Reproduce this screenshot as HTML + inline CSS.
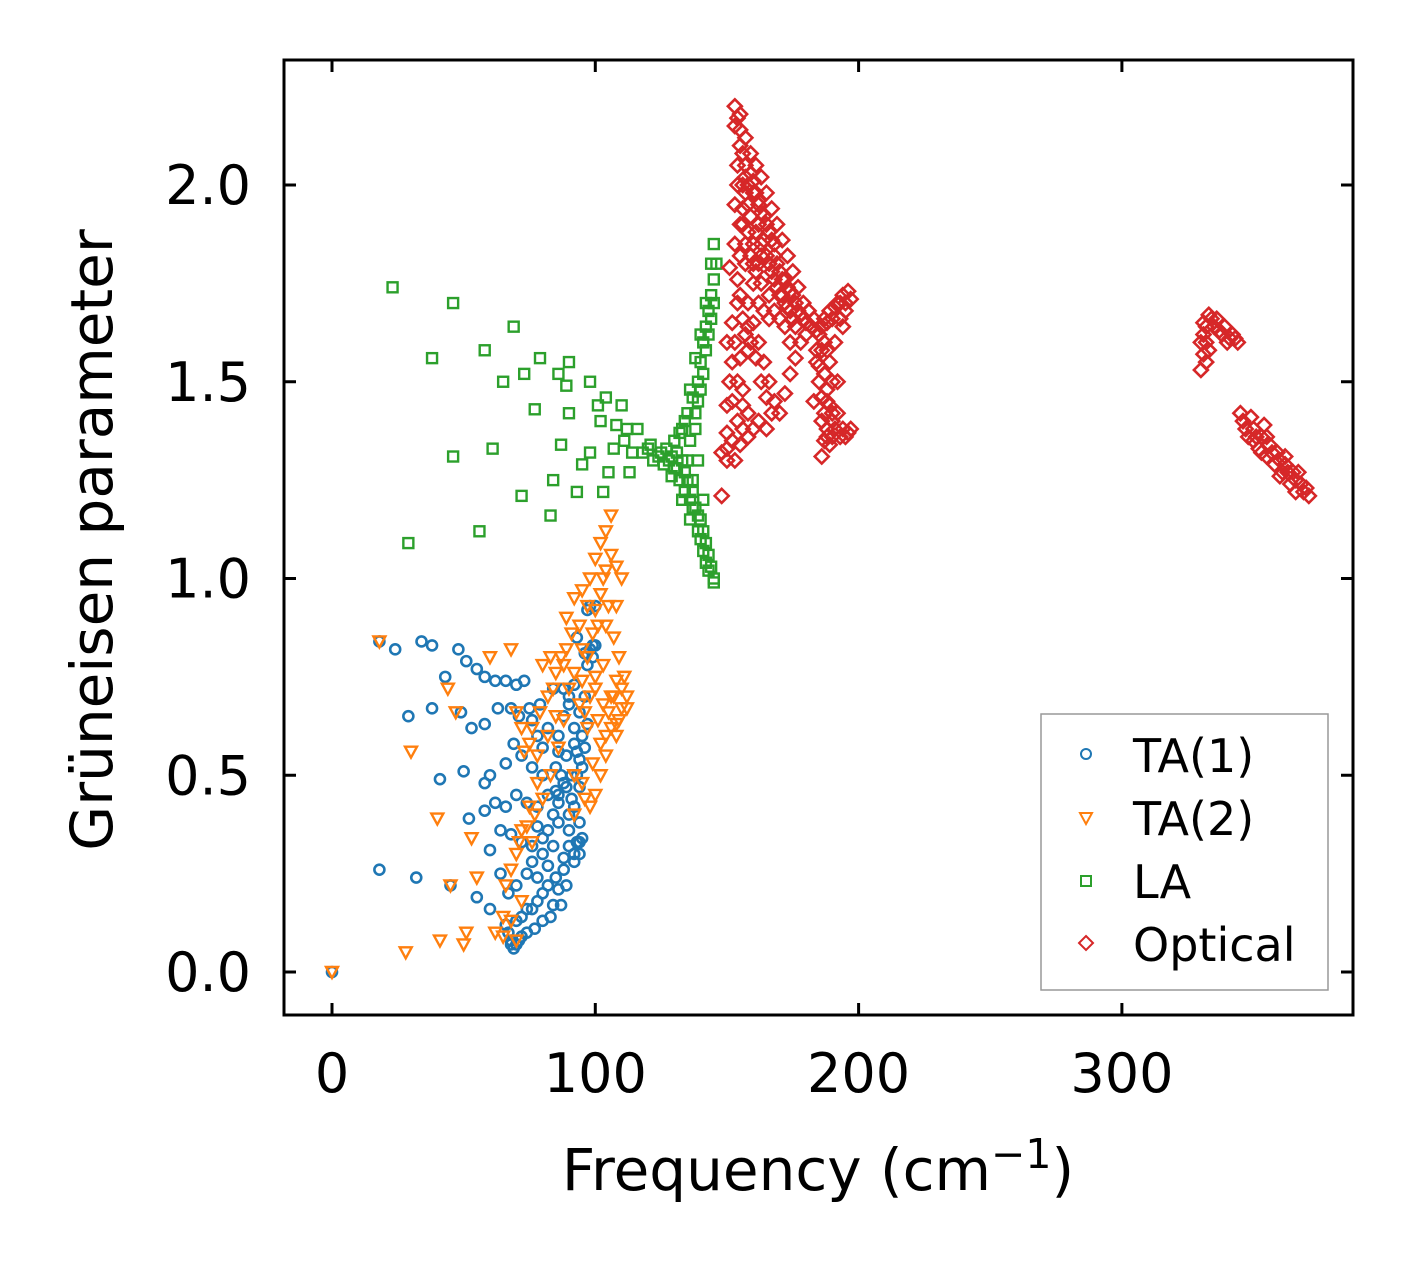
<!DOCTYPE html>
<html><head><meta charset="utf-8"><style>
html,body{margin:0;padding:0;background:#fff;}
svg{display:block;font-family:"DejaVu Sans","Liberation Sans",sans-serif;}
</style></head><body>
<svg id="chart" width="1413" height="1264" viewBox="0 0 1413 1264">
<rect x="0" y="0" width="1413" height="1264" fill="#fff"/>
<g id="marks"></g>
<rect x="284" y="60" width="1069" height="955" fill="none" stroke="#000" stroke-width="3"/>
<g id="axes"></g>
<text x="818" y="1190" font-size="58" text-anchor="middle">Frequency (cm<tspan dy="-22" font-size="41">−1</tspan><tspan dy="22">)</tspan></text>
<text transform="translate(112,540) rotate(-90)" font-size="58" text-anchor="middle">Grüneisen parameter</text>
<g>
<rect x="1041" y="714" width="287" height="276" fill="#fff" fill-opacity="0.8" stroke="#999" stroke-width="1.5"/>
<circle cx="1086" cy="754" r="5" fill="none" stroke="#1f77b4" stroke-width="2"/>
<text x="1133" y="772" font-size="46">TA(1)</text>
<path d="M1080,813 L1092,813 L1086,824 Z" fill="none" stroke="#ff7f0e" stroke-width="2"/>
<text x="1133" y="835" font-size="46">TA(2)</text>
<rect x="1081" y="876" width="10" height="10" fill="none" stroke="#2ca02c" stroke-width="2"/>
<text x="1133" y="898" font-size="46">LA</text>
<path d="M1086,936 L1093,943 L1086,950 L1079,943 Z" fill="none" stroke="#d62728" stroke-width="2"/>
<text x="1133" y="961" font-size="46">Optical</text>
</g>
</svg>
<script>
const xTicks=[0,100,200,300];
const yTicks=[0.0,0.5,1.0,1.5,2.0];
const yTickLabels=["0.0","0.5","1.0","1.5","2.0"];
const ta1=[[0,0],[18,0.84],[24,0.82],[34,0.84],[38,0.83],[43,0.75],[48,0.82],[51,0.79],[55,0.77],[58,0.75],[62,0.74],[66,0.74],[70,0.73],[73,0.74],[29,0.65],[38,0.67],[49,0.66],[53,0.62],[58,0.63],[63,0.67],[68,0.67],[71,0.65],[75,0.67],[79,0.68],[84,0.72],[88,0.72],[92,0.73],[97,0.78],[99,0.8],[100,0.83],[97,0.92],[100,0.93],[93,0.85],[41,0.49],[50,0.51],[58,0.48],[60,0.5],[66,0.53],[69,0.58],[72,0.55],[76,0.52],[80,0.5],[85,0.52],[89,0.55],[93,0.56],[95,0.6],[58,0.41],[62,0.43],[66,0.42],[70,0.45],[74,0.43],[78,0.42],[82,0.45],[86,0.43],[90,0.4],[94,0.38],[52,0.39],[60,0.31],[64,0.36],[68,0.35],[72,0.33],[76,0.32],[80,0.3],[84,0.32],[88,0.29],[92,0.28],[94,0.3],[18,0.26],[32,0.24],[45,0.22],[55,0.19],[60,0.16],[64,0.25],[67,0.2],[70,0.22],[74,0.25],[78,0.24],[82,0.27],[86,0.21],[89,0.22],[84,0.17],[87,0.17],[66,0.12],[68,0.08],[70,0.07],[72,0.09],[74,0.1],[77,0.11],[80,0.13],[83,0.14],[67,0.1],[69,0.06],[86,0.6],[88,0.65],[90,0.68],[92,0.62],[94,0.66],[96,0.7],[85,0.46],[87,0.5],[89,0.47],[91,0.44],[93,0.5],[95,0.34],[93,0.33],[90,0.36],[86,0.38],[82,0.36],[78,0.37],[80,0.2],[76,0.16],[72,0.14],[98,0.82],[96,0.81],[82,0.62],[80,0.57],[78,0.6],[76,0.64],[90,0.7],[92,0.58],[94,0.54],[91,0.5],[88,0.48],[86,0.45],[92,0.42],[90,0.32],[92,0.3],[94,0.33],[88,0.26],[85,0.24],[82,0.22],[78,0.18],[74,0.16],[70,0.13],[68,0.07],[71,0.08],[96,0.57],[95,0.52],[94,0.47],[97,0.63],[99,0.83],[98,0.93],[86,0.56],[84,0.4],[80,0.34],[76,0.28]];
const ta2=[[0,0],[18,0.84],[28,0.05],[30,0.56],[41,0.08],[40,0.39],[44,0.72],[47,0.66],[45,0.22],[50,0.07],[51,0.1],[55,0.24],[53,0.34],[62,0.1],[65,0.14],[60,0.8],[68,0.82],[70,0.66],[72,0.62],[75,0.58],[78,0.55],[80,0.78],[83,0.8],[85,0.76],[88,0.78],[90,0.72],[92,0.76],[95,0.74],[98,0.7],[100,0.72],[103,0.68],[105,0.66],[107,0.7],[108,0.63],[110,0.67],[112,0.67],[108,0.6],[104,0.55],[102,0.5],[100,0.45],[98,0.42],[95,0.48],[92,0.5],[89,0.9],[92,0.95],[95,0.97],[98,1.0],[100,1.05],[102,1.09],[104,1.12],[106,1.16],[108,1.03],[110,1.0],[105,0.93],[107,0.85],[109,0.8],[104,0.88],[101,0.88],[95,0.82],[85,0.65],[82,0.6],[78,0.48],[75,0.42],[72,0.36],[76,0.33],[70,0.3],[68,0.26],[66,0.22],[72,0.18],[70,0.08],[65,0.09],[68,0.13],[100,0.75],[103,0.78],[106,0.62],[97,0.62],[111,0.75],[108,0.93],[103,1.0],[97,0.93],[94,0.88],[91,0.86],[88,0.64],[86,0.57],[83,0.5],[80,0.44],[77,0.4],[74,0.37],[71,0.33],[106,1.06],[104,1.02],[102,0.96],[100,0.92],[99,0.86],[97,0.8],[94,0.68],[96,0.66],[101,0.64],[104,0.6],[106,0.7],[108,0.74],[110,0.72],[112,0.7],[109,0.64],[102,0.58],[99,0.53],[96,0.44],[92,0.4],[89,0.82],[87,0.8],[84,0.72],[82,0.7],[79,0.66],[76,0.62],[73,0.56]];
const la=[[23,1.74],[46,1.7],[69,1.64],[38,1.56],[58,1.58],[79,1.56],[90,1.55],[65,1.5],[73,1.52],[86,1.52],[98,1.5],[89,1.49],[101,1.44],[104,1.46],[110,1.44],[77,1.43],[90,1.42],[102,1.4],[108,1.39],[112,1.38],[116,1.38],[107,1.33],[111,1.35],[114,1.32],[87,1.34],[61,1.33],[46,1.31],[98,1.32],[95,1.29],[105,1.27],[113,1.27],[84,1.25],[72,1.21],[93,1.22],[103,1.22],[56,1.12],[83,1.16],[29,1.09],[118,1.32],[121,1.34],[124,1.31],[127,1.33],[130,1.35],[133,1.38],[135,1.42],[137,1.46],[139,1.5],[140,1.55],[141,1.6],[142,1.64],[143,1.68],[144,1.72],[145,1.76],[146,1.8],[144,1.8],[145,1.85],[142,1.7],[140,1.62],[138,1.56],[136,1.48],[134,1.4],[132,1.37],[128,1.3],[130,1.28],[132,1.25],[134,1.22],[136,1.2],[138,1.18],[140,1.15],[141,1.12],[142,1.09],[143,1.06],[144,1.03],[145,1.0],[145,0.99],[137,1.25],[139,1.3],[126,1.29],[122,1.3],[129,1.26],[133,1.2],[136,1.15],[139,1.12],[131,1.32],[135,1.3],[138,1.38],[137,1.22],[134,1.27],[141,1.2],[136,1.35],[138,1.42],[139,1.45],[140,1.48],[141,1.52],[142,1.58],[143,1.62],[144,1.66],[145,1.7],[135,1.25],[137,1.18],[139,1.16],[140,1.1],[141,1.07],[142,1.04],[143,1.02],[133,1.3],[131,1.28],[129,1.31],[125,1.32],[120,1.33]];
const optical=[[148,1.21],[148,1.32],[150,1.3],[152,1.35],[154,1.4],[156,1.44],[150,1.37],[150,1.44],[151,1.5],[152,1.55],[150,1.6],[152,1.65],[154,1.7],[151,1.79],[153,1.85],[155,1.9],[153,1.95],[154,2.0],[154,2.05],[155,2.1],[153,2.15],[153,2.2],[155,2.18],[157,2.12],[159,2.08],[161,2.05],[163,2.02],[165,1.98],[167,1.94],[169,1.9],[171,1.86],[173,1.82],[175,1.78],[177,1.74],[179,1.7],[181,1.68],[183,1.66],[185,1.62],[187,1.6],[188,1.58],[190,1.66],[192,1.7],[194,1.72],[196,1.73],[190,1.5],[188,1.45],[186,1.4],[187,1.35],[186,1.31],[190,1.36],[193,1.36],[196,1.37],[192,1.42],[157,1.8],[160,1.85],[162,1.9],[164,1.86],[166,1.8],[168,1.76],[170,1.72],[172,1.7],[174,1.68],[158,1.7],[160,1.65],[162,1.6],[164,1.55],[166,1.5],[168,1.45],[170,1.42],[172,1.47],[174,1.52],[176,1.56],[178,1.6],[160,1.75],[163,1.75],[166,1.72],[158,1.58],[156,1.48],[158,1.42],[162,1.4],[165,1.38],[167,1.42],[176,1.64],[180,1.62],[184,1.55],[185,1.5],[183,1.45],[156,2.0],[158,1.95],[160,1.98],[157,2.05],[162,1.95],[165,1.9],[168,1.85],[156,1.9],[155,1.82],[188,1.65],[191,1.6],[194,1.64],[189,1.55],[192,1.5],[190,1.42],[188,1.38],
[154,2.17],[155,2.14],[156,2.08],[157,2.02],[158,2.0],[159,2.03],[160,2.01],[161,1.98],[162,1.96],[163,1.93],[164,1.92],[166,1.88],[167,1.86],[168,1.82],[169,1.8],[170,1.78],[171,1.76],[172,1.76],[173,1.74],[174,1.73],[175,1.72],[176,1.7],[177,1.68],[178,1.67],[179,1.66],[180,1.65],[182,1.64],[184,1.63],[186,1.64],[187,1.66],[189,1.68],[191,1.69],[193,1.7],[195,1.7],[197,1.71],[186,1.58],[187,1.52],[188,1.48],[189,1.44],[190,1.4],[188,1.36],[189,1.34],[191,1.38],[194,1.38],[195,1.36],[197,1.38],[187,1.42],[186,1.46],[185,1.54],[184,1.58],[193,1.66],[195,1.68],[157,1.85],[158,1.88],[159,1.82],[160,1.8],[161,1.78],[162,1.8],[163,1.85],[165,1.82],[167,1.78],[169,1.74],[171,1.72],[173,1.69],[175,1.66],[154,1.76],[155,1.72],[156,1.66],[157,1.62],[158,1.64],[159,1.6],[161,1.56],[163,1.5],[165,1.46],[155,1.56],[153,1.6],[152,1.45],[154,1.5],[156,1.38],[158,1.36],[160,1.38],[150,1.33],[153,1.3],[155,1.34],[156,1.94],[157,1.98],[159,1.92],[161,1.88],[163,1.82],[172,1.64],[174,1.6],[170,1.66],[168,1.68],[166,1.66],[164,1.68],[162,1.7],
[330,1.53],[330,1.6],[331,1.65],[333,1.67],[336,1.66],[339,1.64],[342,1.62],[344,1.6],[333,1.58],[332,1.55],[346,1.4],[350,1.38],[353,1.36],[356,1.34],[359,1.32],[362,1.29],[365,1.27],[368,1.24],[371,1.21],[348,1.36],[352,1.33],[355,1.31],[358,1.29],[361,1.27],[364,1.24],[345,1.42],[349,1.41],[354,1.39],[331,1.62],[332,1.64],[334,1.66],[335,1.64],[337,1.63],[338,1.62],[340,1.6],[341,1.61],[343,1.61],[331,1.57],[332,1.6],[347,1.38],[351,1.36],[357,1.32],[360,1.3],[363,1.27],[366,1.25],[369,1.22],[370,1.23],[367,1.27],[362,1.31],[355,1.36],[350,1.35],[353,1.32],[360,1.26],[366,1.22]];

const NS="http://www.w3.org/2000/svg";
function xs(v){return 332+v*2.633;}
function ys(v){return 972-v*393.5;}
const marks=document.getElementById('marks');
const axes=document.getElementById('axes');
function mk(tag,attrs,parent){const e=document.createElementNS(NS,tag);for(const k in attrs)e.setAttribute(k,attrs[k]);parent.appendChild(e);return e;}
ta1.forEach(p=>{const e=mk('circle',{cx:xs(p[0]),cy:ys(p[1]),r:5,fill:'none',stroke:'#1f77b4','stroke-width':2.6},marks);

});
ta2.forEach(p=>{const x=xs(p[0]),y=ys(p[1]);const e=mk('path',{d:`M${x-6},${y-5} L${x+6},${y-5} L${x},${y+6} Z`,fill:'none',stroke:'#ff7f0e','stroke-width':2.4},marks);

});
la.forEach(p=>{const e=mk('rect',{x:xs(p[0])-5,y:ys(p[1])-5,width:10,height:10,fill:'none',stroke:'#2ca02c','stroke-width':2.4},marks);

});
optical.forEach(p=>{const x=xs(p[0]),y=ys(p[1]);const e=mk('path',{d:`M${x},${y-7} L${x+7},${y} L${x},${y+7} L${x-7},${y} Z`,fill:'none',stroke:'#d62728','stroke-width':2.6},marks);

});
xTicks.forEach(t=>{const x=xs(t);
mk('line',{x1:x,y1:1015,x2:x,y2:1003,stroke:'#000','stroke-width':3},axes);
mk('line',{x1:x,y1:60,x2:x,y2:72,stroke:'#000','stroke-width':3},axes);
const tx=mk('text',{x:x,y:1092,'font-size':54,'text-anchor':'middle'},axes);tx.textContent=t;

});
yTicks.forEach((t,i)=>{const y=ys(t);
mk('line',{x1:284,y1:y,x2:296,y2:y,stroke:'#000','stroke-width':3},axes);
mk('line',{x1:1353,y1:y,x2:1341,y2:y,stroke:'#000','stroke-width':3},axes);
const tx=mk('text',{x:251,y:y+19,'font-size':54,'text-anchor':'end'},axes);tx.textContent=yTickLabels[i];

});
</script>
</body></html>
